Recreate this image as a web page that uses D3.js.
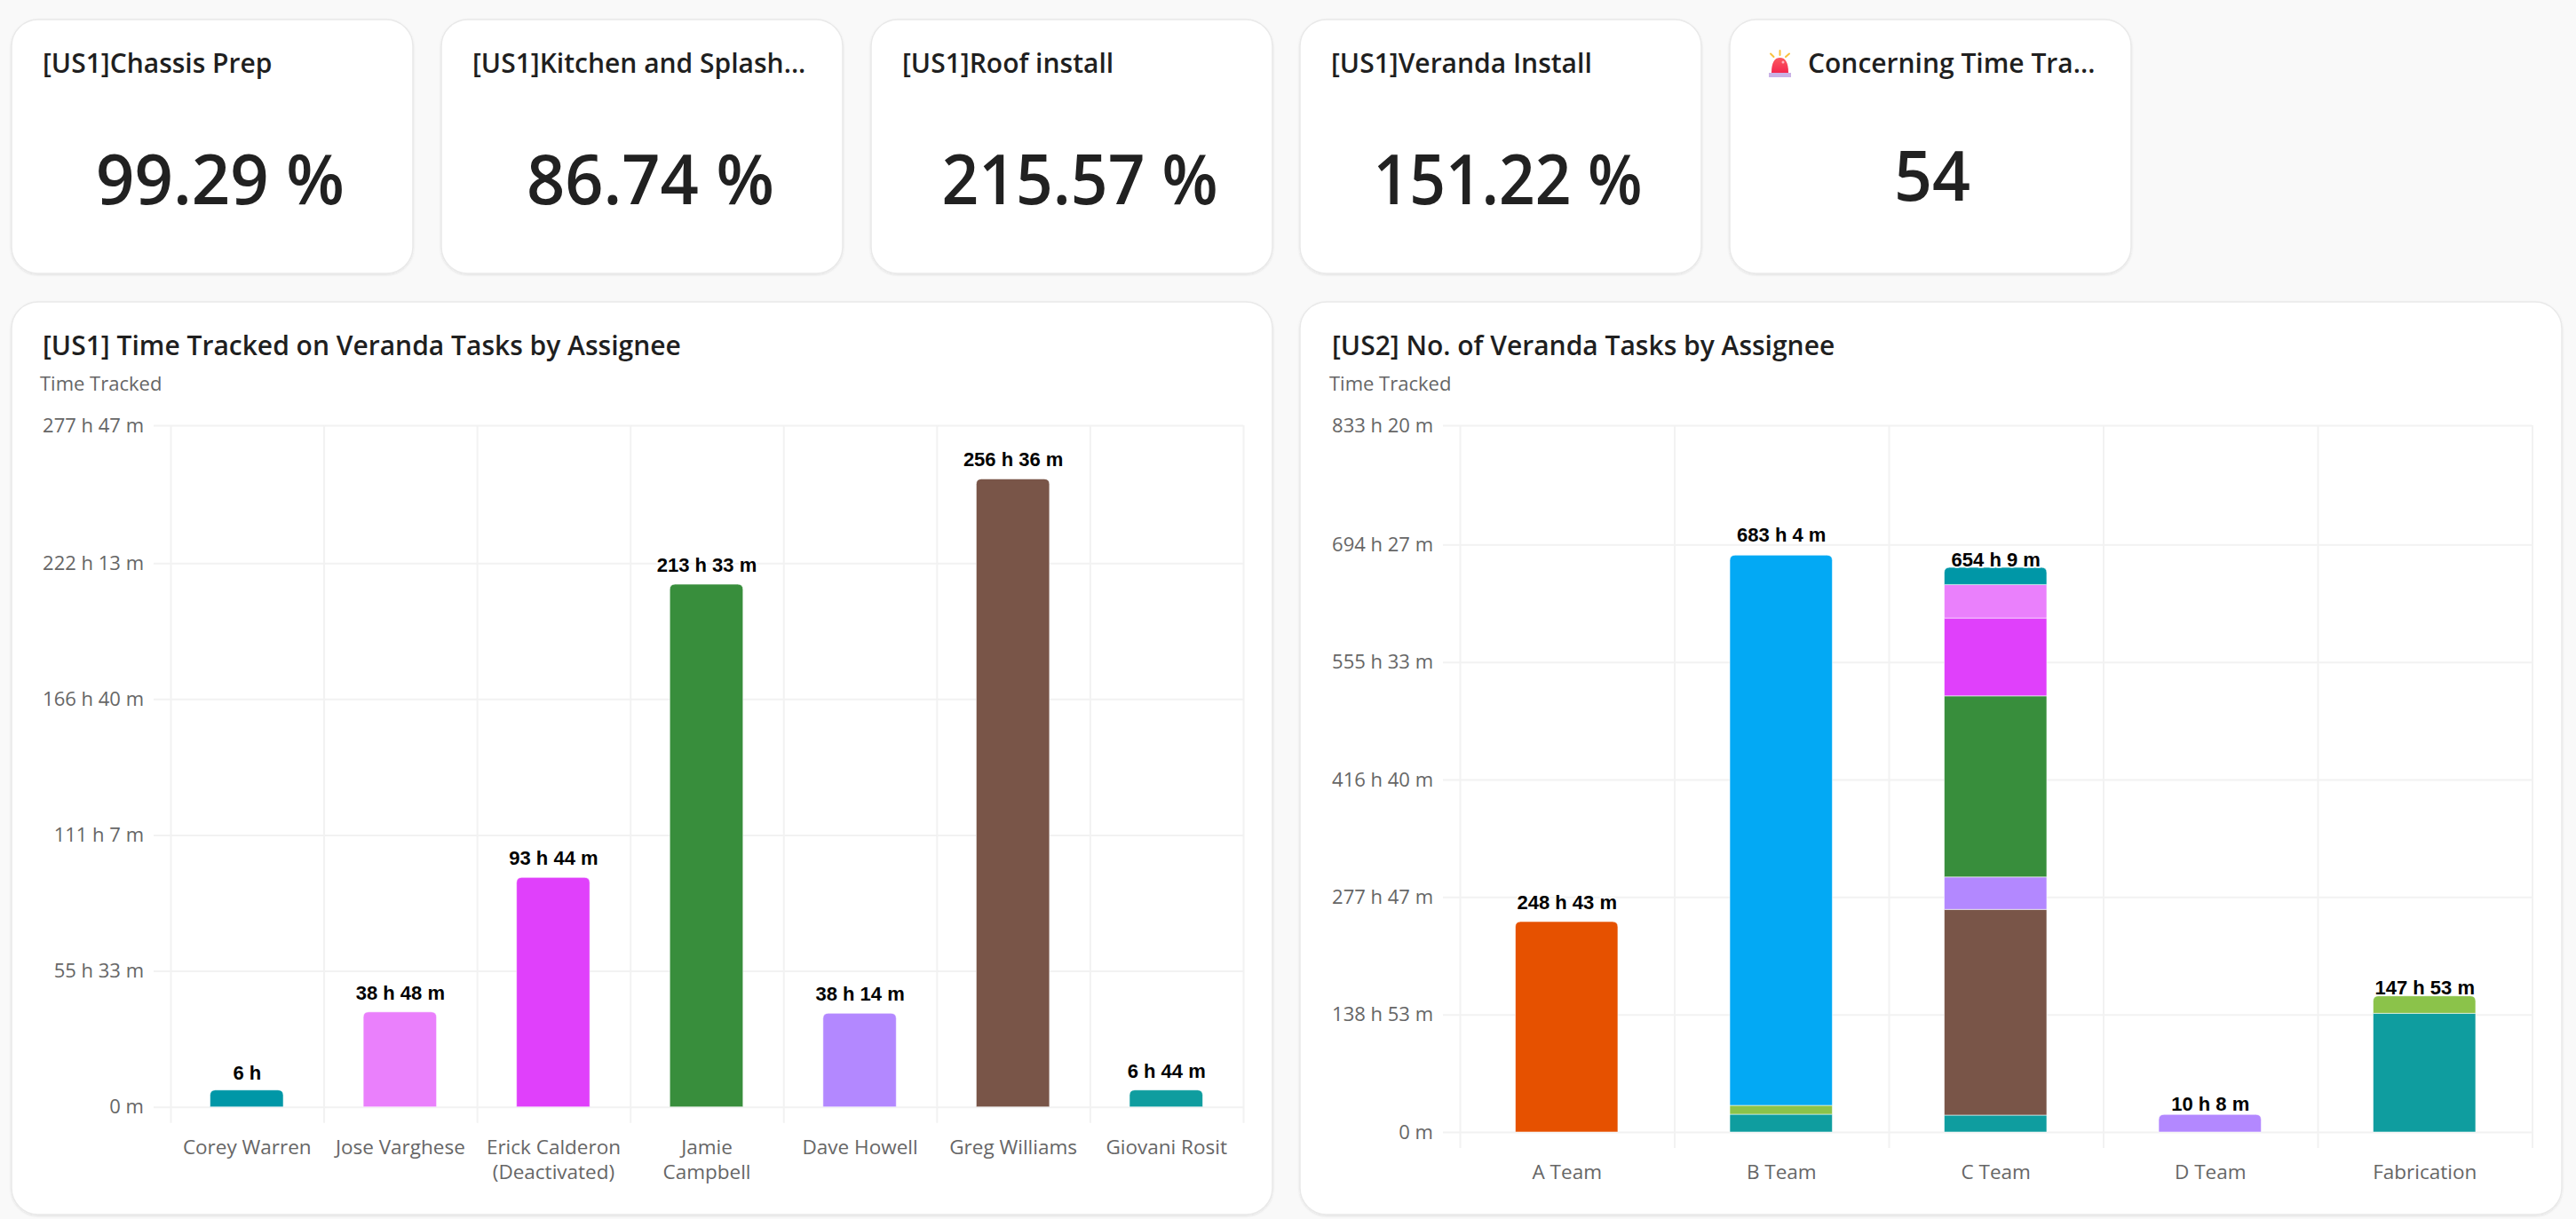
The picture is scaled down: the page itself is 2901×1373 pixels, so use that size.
<!DOCTYPE html>
<html>
<head>
<meta charset="utf-8">
<script src="https://cdn.jsdelivr.net/npm/d3@7"></script>
<style>
  html, body { margin:0; padding:0; background:#f9f9f9; }
  svg { display:block; }
  text { font-family:"Open Sans", sans-serif; }
  .axis path.domain { display:none; }
  .grid line { stroke:#f2f2f2; stroke-width:2; }
  .y-axis text { font-size:22px; fill:#666; }
  .x-axis text { font-size:22.5px; fill:#666; }
  .bar-label { font-family:"Liberation Sans", Arial, sans-serif; font-weight:700; font-size:22px; fill:#000;
               paint-order:stroke; stroke:#fff; stroke-width:3px; text-anchor:middle; }
</style>
</head>
<body>
<script>
/* Metric cards */
var cardTitles = ["[US1]Chassis Prep", "[US1]Kitchen and Splash...", "[US1]Roof install", "[US1]Veranda Install", "Concerning Time Tra..."];
var cardValues = ["99.29 %", "86.74 %", "215.57 %", "151.22 %", "54"];

/* Left chart: minutes tracked per assignee */
var assignees = ["Corey Warren", "Jose Varghese", "Erick Calderon\n(Deactivated)", "Jamie\nCampbell", "Dave Howell", "Greg Williams", "Giovani Rosit"];
var assigneeMinutes = [360, 2328, 5624, 12813, 2294, 15396, 404];
var assigneeColors = ["#0097a7", "#ea80fc", "#e040fb", "#388e3c", "#b388ff", "#795548", "#0f9d9f"];
var leftTicks = [0, 3333.33, 6666.67, 10000, 13333.33, 16666.67];

/* Right chart: totals per team and the stacked pieces, bottom to top */
var teams = ["A Team", "B Team", "C Team", "D Team", "Fabrication"];
var teamTotals = [14923, 40984, 39249, 608, 8873];
var rightTicks = [0, 8333.33, 16666.67, 25000, 33333.33, 41666.67, 50000];
var stackNames = ["giovani", "lime", "greg", "dave", "jamie", "erick", "jose", "corey", "orange", "blue"];
var stackColors = ["#0f9d9f", "#8bc34a", "#795548", "#b388ff", "#388e3c", "#e040fb", "#ea80fc", "#0097a7", "#e65100", "#03a9f4"];
var giovani = [0, 1259, 1197, 0, 8419];
var lime = [0, 630, 0, 0, 1235];
var greg = [0, 0, 14590, 0, 0];
var dave = [0, 0, 2300, 1241, 0];
var jamie = [0, 0, 12845, 0, 0];
var erick = [0, 0, 5523, 0, 0];
var jose = [0, 0, 2374, 0, 0];
var corey = [0, 0, 1215, 0, 0];
var orange = [14923, 0, 0, 0, 0];
var blue = [0, 39023, 0, 0, 0];
var stackValues = [giovani, lime, greg, dave, jamie, erick, jose, corey, orange, blue];

var svg = d3.select("body").append("svg")
  .attr("width", 2901)
  .attr("height", 1373);

var defs = svg.append("defs");
var shadow = defs.append("filter").attr("id", "card-shadow")
  .attr("x", "-2%").attr("y", "-2%").attr("width", "104%").attr("height", "104%");
shadow.append("feDropShadow").attr("dx", 0).attr("dy", 1).attr("stdDeviation", 1)
  .attr("flood-color", "#000").attr("flood-opacity", 0.1);

var sirenGrad = defs.append("linearGradient").attr("id", "siren-body")
  .attr("x1", 0).attr("y1", 0).attr("x2", 0).attr("y2", 1);
sirenGrad.append("stop").attr("offset", "0%").attr("stop-color", "#fb5a5e");
sirenGrad.append("stop").attr("offset", "100%").attr("stop-color", "#f4274f");

function panel(x, y, w, h) {
  svg.append("rect")
    .attr("x", x).attr("y", y).attr("width", w).attr("height", h)
    .attr("rx", 30).attr("ry", 30)
    .attr("fill", "#fff")
    .attr("stroke", "#e9e9e9").attr("stroke-width", 1.5)
    .attr("filter", "url(#card-shadow)");
}

/* minutes to "12 h 5 m" */
function fmt(mins) {
  var total = Math.round(mins);
  var h = Math.floor(total / 60), m = total % 60;
  if (h === 0) return m + " m";
  return m === 0 ? h + " h" : h + " h " + m + " m";
}

/* Cards */
var cardX = [13, 497, 981, 1464, 1948];
var cardW = 452;
var valueCentre = [248, 732.5, 1216, 1698, 2176];
var valueWidth = [280, 279, 311, 303, 86];
cardTitles.forEach(function(title, i) {
  panel(cardX[i], 22, cardW, 286);
  svg.append("text")
    .attr("x", cardX[i] + (i === 4 ? 88 : 35))
    .attr("y", 82)
    .attr("font-size", 30)
    .attr("font-weight", 600)
    .attr("fill", "#1f1f1f")
    .text(title);
  svg.append("text")
    .attr("x", valueCentre[i])
    .attr("y", i === 4 ? 226 : 230)
    .attr("text-anchor", "middle")
    .attr("textLength", valueWidth[i])
    .attr("lengthAdjust", "spacingAndGlyphs")
    .attr("font-size", 78)
    .attr("font-weight", 600)
    .attr("fill", "#212121")
    .text(cardValues[i]);
});

/* Siren emoji of the fifth card */
var siren = svg.append("g").attr("transform", "translate(1980,50)");
siren.append("path").attr("d", "M15 32 C15 21 18 15 24.5 15 C31 15 34 21 34 32 Z").attr("fill", "url(#siren-body)");
siren.append("rect").attr("x", 12).attr("y", 32).attr("width", 25).attr("height", 5).attr("fill", "#c9b2e6");
siren.append("circle").attr("cx", 28).attr("cy", 20).attr("r", 1.5).attr("fill", "#ffb3c0");
siren.append("path").attr("d", "M24.5 7 V12 M14 10.5 L17.5 14 M35 10.5 L31 14")
  .attr("stroke", "#f9c23c").attr("stroke-width", 2).attr("stroke-linecap", "round").attr("fill", "none");

/* Rounded top corners only */
function barPath(x, yTop, w, h, r) {
  var p = d3.path();
  if (r > 0) {
    p.moveTo(x, yTop + h);
    p.lineTo(x, yTop + r);
    p.quadraticCurveTo(x, yTop, x + r, yTop);
    p.lineTo(x + w - r, yTop);
    p.quadraticCurveTo(x + w, yTop, x + w, yTop + r);
    p.lineTo(x + w, yTop + h);
    p.closePath();
  } else {
    p.rect(x, yTop, w, h);
  }
  return p.toString();
}

function drawChart(cfg) {
  panel(cfg.box[0], cfg.box[1], cfg.box[2], cfg.box[3]);

  svg.append("text")
    .attr("x", cfg.titleX).attr("y", 400)
    .attr("font-size", 30).attr("font-weight", 600).attr("fill", "#1f1f1f")
    .text(cfg.title);
  svg.append("text")
    .attr("x", cfg.subX).attr("y", 440)
    .attr("font-size", 22).attr("fill", "#666")
    .text("Time Tracked");

  var maxTick = cfg.ticks[cfg.ticks.length - 1];
  var x = d3.scaleBand().domain(cfg.cats).range([cfg.left, cfg.right]);
  var y = d3.scaleLinear().domain([0, maxTick]).range([cfg.bottom, 481]);
  var edges = d3.scaleLinear().domain([0, cfg.cats.length]).range([cfg.left, cfg.right]);

  // horizontal grid and value labels
  var yAxis = svg.append("g")
    .attr("class", "axis grid y-axis")
    .attr("transform", "translate(" + cfg.right + ",0)")
    .call(d3.axisLeft(y).tickValues(cfg.ticks).tickFormat(fmt).tickSize(cfg.right - cfg.left + 19).tickPadding(11));
  // the top line sits a little above the even spacing in the original
  yAxis.selectAll(".tick").filter(function(d) { return d === maxTick; })
    .attr("transform", "translate(0,479.5)");

  // vertical grid on the band edges
  svg.append("g")
    .attr("class", "axis grid")
    .attr("transform", "translate(0," + (cfg.bottom + 18) + ")")
    .call(d3.axisTop(edges).tickValues(d3.range(cfg.cats.length + 1)).tickFormat("").tickSize(cfg.bottom + 18 - 479));

  // category labels
  var xAxis = svg.append("g")
    .attr("class", "axis x-axis")
    .attr("transform", "translate(0," + cfg.labelY + ")")
    .call(d3.axisBottom(x).tickSize(0).tickPadding(0));
  xAxis.selectAll("text").each(function(d) {
    var t = d3.select(this).text("").attr("y", 0).attr("dy", null);
    d.split("\n").forEach(function(line, i) {
      t.append("tspan").attr("x", 0).attr("y", i * 28).text(line);
    });
  });

  // bars
  var barW = x.bandwidth() * 0.478;
  svg.append("g").selectAll("path")
    .data(cfg.segments)
    .join("path")
    .attr("d", function(d) {
      var h = Math.max(y(d.y0) - y(d.y1), cfg.minBar);
      var bx = x(d.cat) + (x.bandwidth() - barW) / 2 - 0.5;
      return barPath(bx, y(d.y0) - h, barW, h, d.top ? 6 : 0);
    })
    .attr("fill", function(d) { return d.color; })
    .attr("stroke", "#fff")
    .attr("stroke-opacity", 0.55)
    .attr("stroke-width", 1);

  // totals above the bars
  svg.append("g").selectAll("text")
    .data(cfg.cats)
    .join("text")
    .attr("class", "bar-label")
    .attr("x", function(d) { return x(d) + x.bandwidth() / 2; })
    .attr("y", function(d, i) { return y(cfg.totals[i]) - 14; })
    .text(function(d, i) { return fmt(cfg.totals[i]); });
}

/* Left chart */
drawChart({
  box: [13, 340, 1420, 1028],
  title: "[US1] Time Tracked on Veranda Tasks by Assignee",
  titleX: 48, subX: 45,
  cats: assignees,
  totals: assigneeMinutes,
  ticks: leftTicks,
  left: 192, right: 1400, bottom: 1246.7, labelY: 1300,
  minBar: 19,
  segments: assignees.map(function(c, i) {
    return { cat: c, y0: 0, y1: assigneeMinutes[i], color: assigneeColors[i], top: true };
  })
});

/* Right chart, pieces stacked with d3.stack */
var rows = teams.map(function(t, i) {
  var row = { team: t };
  stackNames.forEach(function(n, k) { row[n] = stackValues[k][i]; });
  return row;
});
var stacked = d3.stack().keys(stackNames)(rows);
var rightSegments = [];
stacked.forEach(function(layer, k) {
  layer.forEach(function(pt, i) {
    if (pt[1] > pt[0]) {
      rightSegments.push({
        cat: teams[i], y0: pt[0], y1: pt[1], color: stackColors[k],
        top: stackValues.slice(k + 1).every(function(s) { return s[i] === 0; })
      });
    }
  });
});

drawChart({
  box: [1464, 340, 1421, 1028],
  title: "[US2] No. of Veranda Tasks by Assignee",
  titleX: 1500, subX: 1497,
  cats: teams,
  totals: teamTotals,
  ticks: rightTicks,
  left: 1644, right: 2851.5, bottom: 1275, labelY: 1328,
  minBar: 0,
  segments: rightSegments
});
</script>
</body>
</html>
